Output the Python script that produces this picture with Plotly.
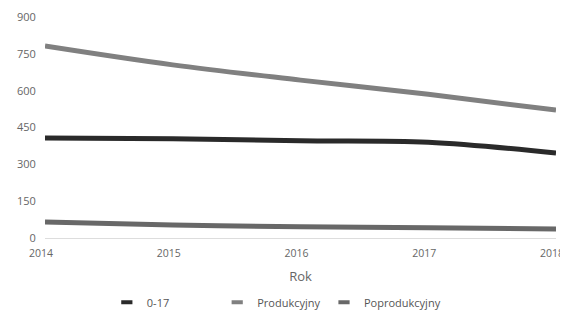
import plotly.graph_objects as go

years = [2014, 2015, 2016, 2017, 2018]
s_0_17 = [407, 404, 396, 390, 346]
s_prod = [782, 705, 643, 585, 521]
s_poprod = [65, 53, 46, 42, 37]

names = ["0-17", "Produkcyjny", "Poprodukcyjny"]
colors = ["#2a2a2a", "#808080", "#686868"]
series = [s_0_17, s_prod, s_poprod]
legend_ids = ["legend", "legend2", "legend3"]
legend_x = [0.121, 0.337, 0.546]

fig = go.Figure()
for n, c, s in zip(names, colors, series):
    fig.add_trace(go.Scatter(x=years, y=s, name=n, mode="lines", showlegend=False,
                             line=dict(color=c, width=5, shape="spline")))
for n, c, lg in zip(names, colors, legend_ids):
    fig.add_trace(go.Scatter(x=[None], y=[None], name=n, mode="markers", legend=lg,
                             marker=dict(symbol="line-ew", size=8,
                                         line=dict(color=c, width=4))))

leg_common = dict(orientation="h", xanchor="left", y=-0.225, yanchor="top",
                  itemwidth=30, font=dict(size=11, color="#555"),
                  bgcolor="rgba(0,0,0,0)")
fig.update_layout(
    width=560, height=302,
    margin=dict(l=37, r=12, t=9, b=72, autoexpand=False),
    paper_bgcolor="white", plot_bgcolor="white",
    font=dict(family="Open Sans", size=11, color="#666"),
    showlegend=True,
    legend=dict(x=legend_x[0], **leg_common),
    legend2=dict(x=legend_x[1], **leg_common),
    legend3=dict(x=legend_x[2], **leg_common),
    xaxis=dict(range=[2014, 2018], tickvals=years, showgrid=False, zeroline=False,
               showline=True, linecolor="#ddd", title=dict(text="Rok", standoff=13),
               ticks="outside", ticklen=5, tickcolor="white",
               tickfont=dict(size=10.5), ticklabelshift=-4,
               ticklabeloverflow="allow"),
    yaxis=dict(range=[0, 900], tickvals=[0, 150, 300, 450, 600, 750, 900],
               showgrid=False, zeroline=False, showline=False,
               ticks="outside", ticklen=6, tickcolor="white"),
)
fig.write_html("out.html")
